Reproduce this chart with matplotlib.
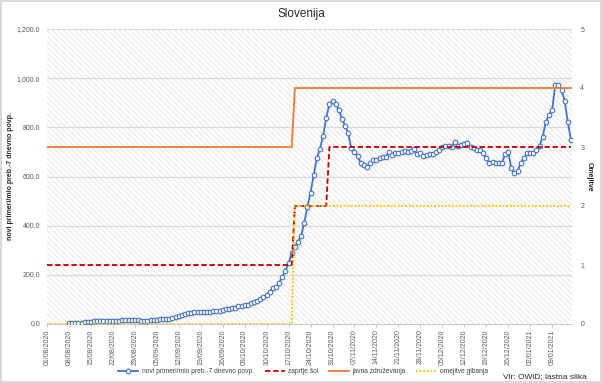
import numpy as np
import pandas as pd
import matplotlib
matplotlib.use("Agg")
import matplotlib.pyplot as plt
import matplotlib.dates as mdates
from matplotlib.patches import Rectangle

plt.rcParams['font.family'] = ['Liberation Sans', 'DejaVu Sans']
plt.rcParams['hatch.linewidth'] = 0.6

# novi primeri / mio prebivalcev, 7-dnevno povprecje, dnevno od 08/08/2020
case_start = "2020-08-08"
cases = [5, 5, 5, 6, 6, 7, 9, 10,
         11, 11, 12, 12, 13, 13, 14,
         14, 14, 15, 15, 15, 15, 15,
         15, 14, 14, 14, 15, 16, 18,
         19, 19, 20, 21, 23, 27, 31,
         36, 40, 43, 45, 47, 48, 49,
         49, 50, 50, 51, 52, 54, 57,
         62, 62, 64, 67, 72, 74, 76,
         79, 84, 89, 94, 101, 110, 120,
         132, 148, 149, 168, 193, 217, 248,
         288, 315, 335, 359, 412, 477, 534,
         607, 674, 713, 765, 838, 895, 906,
         895, 872, 834, 807, 775, 714, 699,
         685, 654, 645, 640, 654, 667, 667,
         677, 678, 679, 701, 688, 697, 697,
         698, 705, 701, 705, 711, 690, 697,
         683, 688, 690, 690, 701, 708, 719,
         724, 725, 721, 742, 725, 728, 731,
         735, 721, 715, 708, 708, 694, 674,
         656, 658, 656, 656, 656, 690, 701,
         633, 613, 624, 654, 674, 694, 697,
         697, 708, 725, 762, 823, 850, 871,
         972, 972, 952, 908, 820, 749]

# ukrepi (desna os), tocke sprememb
school_dates = ["2020-08-01", "2020-10-18", "2020-10-19", "2020-10-29", "2020-10-30", "2021-01-15"]
school_vals = [1, 1, 2, 2, 3, 3]
gather_dates = ["2020-08-01", "2020-10-18", "2020-10-19", "2021-01-15"]
gather_vals = [3, 3, 4, 4]
move_dates = ["2020-08-01", "2020-10-18", "2020-10-19", "2021-01-15"]
move_vals = [0, 0, 2, 2]

left_ticks = [0, 200, 400, 600, 800, 1000, 1200]
right_ticks = [0, 1, 2, 3, 4, 5]

case_dates = pd.date_range(case_start, periods=len(cases), freq="D")
tick_dates = pd.date_range("2020-08-01", "2021-01-15", freq="7D")

fig = plt.figure(figsize=(6.02, 3.83), dpi=100)
fig.patch.set_facecolor("white")
fig.patch.set_edgecolor("#d9d9d9")
fig.patch.set_linewidth(1.5)

ax = fig.add_axes([47 / 602, 59 / 383, 525 / 602, 295 / 383])
ax.set_facecolor("white")
ax.add_patch(Rectangle((0, 0), 1, 1, transform=ax.transAxes, facecolor="white",
                       hatch="\\\\\\\\\\\\", edgecolor="#e3e3e3", linewidth=0, zorder=0))

for v in left_ticks[1:]:
    ax.axhline(v, color="#d9d9d9", linewidth=0.9, zorder=1)

ax.plot(case_dates, cases, color="#4472C4", linewidth=1.3, marker="o", markersize=3.3,
        markerfacecolor="white", markeredgecolor="#4472C4", markeredgewidth=0.8,
        label="novi primeri/mio preb.-7 dnevno povp.", zorder=3)

ax.set_xlim(pd.Timestamp("2020-08-01"), pd.Timestamp("2021-01-15") + pd.Timedelta(hours=8))
ax.set_ylim(0, 1200)
ax.set_yticks(left_ticks)
ax.set_yticklabels([f"{v:,.1f}" for v in left_ticks])
ax.set_xticks(tick_dates)
ax.xaxis.set_major_formatter(mdates.DateFormatter("%d/%m/%Y"))
ax.tick_params(axis="x", labelrotation=90, labelsize=5, colors="#595959", length=2.5,
               width=0.6, color="#bfbfbf", pad=1.5)
ax.tick_params(axis="y", labelsize=5, colors="#595959", length=0, pad=5)
for s in ["top", "right", "left"]:
    ax.spines[s].set_visible(False)
ax.spines["bottom"].set_color("#bfbfbf")
ax.spines["bottom"].set_linewidth(0.6)
ax.set_ylabel("novi primeri/mio preb.-7 dnevno povp.", fontsize=5, fontweight="bold",
              color="#262626")
ax.yaxis.set_label_coords((14 - 47) / 525, 0.5)

ax2 = ax.twinx()
ax2.plot(pd.to_datetime(school_dates), school_vals, color="#C00000", linewidth=1.3,
         linestyle=(0, (3, 1.5)), label="zaprtje šol", zorder=3)
ax2.plot(pd.to_datetime(gather_dates), gather_vals, color="#ED7D31", linewidth=1.3,
         label="javna združevanja", zorder=3)
ax2.plot(pd.to_datetime(move_dates), move_vals, color="#FFC000", linewidth=1.3,
         linestyle=(0, (1, 1)), label="omejitve gibanja", zorder=4)
ax2.set_ylim(0, 5)
ax2.set_yticks(right_ticks)
ax2.tick_params(axis="y", labelsize=5, colors="#595959", length=0, pad=6)
for s in ["top", "right", "left", "bottom"]:
    ax2.spines[s].set_visible(False)
ax2.set_ylabel("Omejitve", fontsize=5, fontweight="bold", color="#262626", rotation=270,
               va="center")
ax2.yaxis.set_label_coords((589 - 47) / 525, 0.5)

fig.text(0.5, 1 - 14 / 383, "Slovenija", ha="center", va="center", fontsize=8.5, color="#262626")

h1, l1 = ax.get_legend_handles_labels()
h2, l2 = ax2.get_legend_handles_labels()
fig.legend(h1 + h2, l1 + l2, loc="center", bbox_to_anchor=(303 / 602, 1 - 371.5 / 383),
           ncol=4, frameon=False, fontsize=4.8, handlelength=3.0, columnspacing=1.6,
           handletextpad=0.5, labelcolor="#404040")

fig.text(587 / 602, 1 - 377 / 383, "Vir: OWiD; lastna slika", ha="right", va="center",
         fontsize=6, color="#262626")

fig.savefig("out.png", dpi=100)
